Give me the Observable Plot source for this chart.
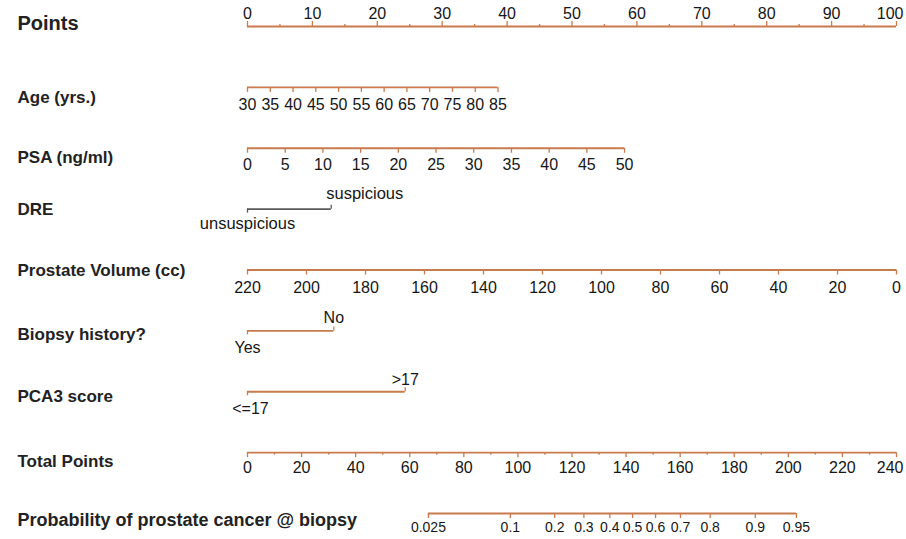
<!DOCTYPE html>
<html><head><meta charset="utf-8">
<script src="https://cdn.jsdelivr.net/npm/d3@7"></script>
<script src="https://cdn.jsdelivr.net/npm/@observablehq/plot@0.6"></script>
<style>html,body{margin:0;padding:0;background:#fff;} svg{display:block;}</style>
</head><body><div id="chart"></div>
<script>
// ---------------- data ----------------
const rows = ["Points", "Age (yrs.)", "PSA (ng/ml)", "DRE", "Prostate Volume (cc)",
  "Biopsy history?", "PCA3 score", "Total Points", "Probability of prostate cancer @ biopsy"];

const pointsMajor = [0, 10, 20, 30, 40, 50, 60, 70, 80, 90, 100];
const pointsMinor = [5, 15, 25, 35, 45, 55, 65, 75, 85, 95];

const ageTicks = [30, 35, 40, 45, 50, 55, 60, 65, 70, 75, 80, 85];
const ageMaxPoints = 38.6;            // points given to age 85

const psaTicks = [0, 5, 10, 15, 20, 25, 30, 35, 40, 45, 50];
const psaMaxPoints = 58.1;            // points given to PSA 50

const dreLevels = ["unsuspicious", "suspicious"];
const drePoints = [0, 12.9];

const volumeTicks = [220, 200, 180, 160, 140, 120, 100, 80, 60, 40, 20, 0];
const volumePointsAt = [0, 100];      // points at 220 cc and at 0 cc

const biopsyLevels = ["Yes", "No"];
const biopsyPoints = [0, 13.3];

const pca3Levels = ["<=17", ">17"];
const pca3Points = [0, 24.3];

const totalMajor = [0, 20, 40, 60, 80, 100, 120, 140, 160, 180, 200, 220, 240];
const totalMinor = [10, 30, 50, 70, 90, 110, 130, 150, 170, 190, 210, 230];

const probLabels = ["0.025", "0.1", "0.2", "0.3", "0.4", "0.5", "0.6", "0.7", "0.8", "0.9", "0.95"];
const probTotalPoints = [66.9, 97.2, 113.6, 124.4, 134.0, 142.4, 150.9, 160.1, 171.1, 187.8, 203.0];

// ---------------- layout / style ----------------
const W = 906, H = 539, X0 = 247, X1 = 896, Y0 = 26, Y1 = 513;
const rowStep = (Y1 - Y0) / (rows.length - 1);
const pxPerPoint = (X1 - X0) / 100;
const ORANGE = "#c97b4e", GRAY = "#5a5a5a", INK = "#161616";
const FONT = "'Liberation Sans', Arial, Helvetica, sans-serif";
const labelOffsets = [-3, 10, 9, 0, 1, 4, 5, 9, 7];    // px offset of each row title
const titleSizes = [20, 17, 17, 17, 17, 17, 17, 17, 18];

// variable -> points mappings
const ageToPts = d3.scaleLinear().domain([ageTicks[0], ageTicks[ageTicks.length - 1]]).range([0, ageMaxPoints]);
const psaToPts = d3.scaleLinear().domain([psaTicks[0], psaTicks[psaTicks.length - 1]]).range([0, psaMaxPoints]);
const volToPts = d3.scaleLinear().domain([220, 0]).range(volumePointsAt);
const totToPts = d3.scaleLinear().domain([0, 240]).range([0, 100]);

const R = Object.fromEntries(rows.map((r, i) => [r, i]));

// ---------------- build marks data ----------------
const segs = [], ticks = [], labels = [];
function seg(row, p1, p2, color = ORANGE) { segs.push({row: R[row], p1, p2, color}); }
function tick(row, p, dir, len = 5, color = ORANGE) { ticks.push({row: R[row], p, dir, len, color}); }
function lab(row, p, text, dy, size, anchor = "middle", dx = 0) { labels.push({row: R[row], p, text, dy, size, anchor, dx}); }

// Points
seg("Points", 0, 100);
pointsMajor.forEach((v, i) => { tick("Points", v, -1, 5);
  lab("Points", v, String(v), -13, 16, i === pointsMajor.length - 1 ? "end" : "middle", i === pointsMajor.length - 1 ? 7 : 0); });
pointsMinor.forEach(v => tick("Points", v, -1, 2));

// Age
seg("Age (yrs.)", ageToPts(ageTicks[0]), ageToPts(ageTicks[ageTicks.length - 1]));
ageTicks.forEach(v => { tick("Age (yrs.)", ageToPts(v), 1, 5); lab("Age (yrs.)", ageToPts(v), String(v), 17, 16); });

// PSA
seg("PSA (ng/ml)", psaToPts(psaTicks[0]), psaToPts(psaTicks[psaTicks.length - 1]));
psaTicks.forEach(v => { tick("PSA (ng/ml)", psaToPts(v), 1, 5); lab("PSA (ng/ml)", psaToPts(v), String(v), 17, 16); });

// DRE
seg("DRE", drePoints[0], drePoints[1], GRAY);
tick("DRE", drePoints[0], 1, 4, GRAY); tick("DRE", drePoints[1], -1, 4, GRAY);
lab("DRE", drePoints[0], dreLevels[0], 15, 16.5);
lab("DRE", drePoints[1], dreLevels[1], -15, 16.5, "start", -5);

// Prostate volume
seg("Prostate Volume (cc)", volToPts(220), volToPts(0));
volumeTicks.forEach(v => { tick("Prostate Volume (cc)", volToPts(v), 1, 5);
  lab("Prostate Volume (cc)", volToPts(v), String(v), 18, 16); });

// Biopsy history
seg("Biopsy history?", biopsyPoints[0], biopsyPoints[1]);
tick("Biopsy history?", biopsyPoints[0], 1, 4); tick("Biopsy history?", biopsyPoints[1], -1, 4);
lab("Biopsy history?", biopsyPoints[0], biopsyLevels[0], 17, 16);
lab("Biopsy history?", biopsyPoints[1], biopsyLevels[1], -13, 16);

// PCA3
seg("PCA3 score", pca3Points[0], pca3Points[1]);
tick("PCA3 score", pca3Points[0], 1, 4); tick("PCA3 score", pca3Points[1], -1, 4);
lab("PCA3 score", pca3Points[0], pca3Levels[0], 17, 16, "middle", 3);
lab("PCA3 score", pca3Points[1], pca3Levels[1], -12, 16);

// Total points
seg("Total Points", totToPts(0), totToPts(240));
totalMajor.forEach((v, i) => { tick("Total Points", totToPts(v), 1, 5);
  lab("Total Points", totToPts(v), String(v), 15, 16, i === totalMajor.length - 1 ? "end" : "middle", i === totalMajor.length - 1 ? 7 : 0); });
totalMinor.forEach(v => tick("Total Points", totToPts(v), 1, 2.5));

// Probability
const probPts = probTotalPoints.map(t => totToPts(t));
seg("Probability of prostate cancer @ biopsy", probPts[0], probPts[probPts.length - 1]);
probPts.forEach((p, i) => { tick("Probability of prostate cancer @ biopsy", p, 1, 5);
  lab("Probability of prostate cancer @ biopsy", p, probLabels[i], 14, 14); });

const titles = rows.map((r, i) => ({row: i, text: r, dy: labelOffsets[i], size: titleSizes[i]}));

function textMarks(items, anchor) {
  return Plot.text(items.filter(d => d.anchor === anchor), {
    x: d => d.p + d.dx / pxPerPoint, y: d => d.row + d.dy / rowStep, text: "text",
    fontSize: "size", textAnchor: anchor, lineAnchor: "middle", fill: INK, fontFamily: FONT
  });
}

const chart = Plot.plot({
  width: W, height: H,
  marginLeft: X0, marginRight: W - X1, marginTop: Y0, marginBottom: H - Y1,
  style: {background: "#fff", overflow: "visible", fontFamily: FONT},
  x: {domain: [0, 100], axis: null},
  y: {domain: [0, rows.length - 1], reverse: true, axis: null},
  marks: [
    Plot.ruleY(segs, {y: "row", x1: "p1", x2: "p2", stroke: "color", strokeWidth: 1.8}),
    Plot.ruleX(ticks, {x: "p", y1: "row", y2: d => d.row + d.dir * d.len / rowStep, stroke: "color", strokeWidth: 1.3}),
    textMarks(labels, "middle"),
    textMarks(labels, "start"),
    textMarks(labels, "end"),
    Plot.text(titles, {frameAnchor: "left", dx: 17 - X0, y: d => d.row + d.dy / rowStep, text: "text",
      fontSize: "size", fontWeight: "bold", textAnchor: "start", lineAnchor: "middle", fill: "#222", fontFamily: FONT})
  ]
});
document.getElementById("chart").appendChild(chart);
</script>
</body></html>
